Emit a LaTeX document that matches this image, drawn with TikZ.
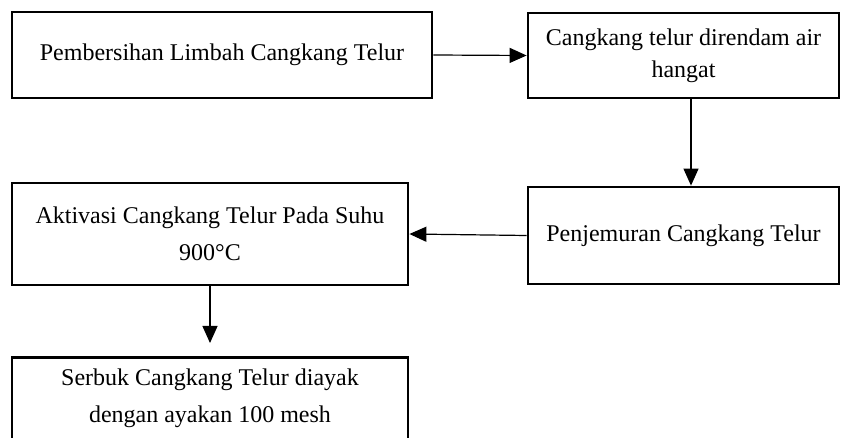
\documentclass[tikz,border=0pt]{standalone}
\usepackage{fontspec}
\setmainfont{Liberation Serif}
\usetikzlibrary{arrows.meta}
\tikzset{
	tahap/.style={draw,line width=1.4pt,inner sep=0pt,align=center,font=\fontsize{12}{16}\selectfont},
	panah/.style={-{Triangle[length=8.5pt,width=7.5pt]},line width=0.6pt}
}
\begin{document}
\begin{tikzpicture}[x=0.5pt,y=-0.5pt]
	\useasboundingbox (0,0) rectangle (841,438);
	\node[tahap,minimum width=210pt,minimum height=43pt] (bersih) at (222,55) {Pembersihan Limbah Cangkang Telur};
	\node[tahap,minimum width=155.5pt,minimum height=42.5pt] (rendam) at (683.5,55.5) {Cangkang telur direndam air\\hangat};
	\node[tahap,minimum width=155.5pt,minimum height=48.5pt] (jemur) at (683.5,235.5) {Penjemuran Cangkang Telur};
	\node[tahap,minimum width=198pt,minimum height=51pt,font=\fontsize{12}{18.25}\selectfont] (aktivasi) at (210,234) {Aktivasi Cangkang Telur Pada Suhu\\900°C};
	\node[tahap,anchor=north,minimum width=198pt,inner ysep=5.8pt] (ayak) at (210,356) {\parbox[c][60pt][t]{190pt}{\centering\baselineskip=18.25pt Serbuk Cangkang Telur diayak\\dengan ayakan 100 mesh}};
	\draw[panah] (bersih.east) -- (rendam.west);
	\draw[panah] ([xshift=3.75pt]rendam.south) -- ([xshift=3.75pt]jemur.north);
	\draw[panah] (jemur.west) -- (aktivasi.east);
	\draw[panah,shorten >=6.5pt] (aktivasi.south) -- (ayak.north);
\end{tikzpicture}
\end{document}
